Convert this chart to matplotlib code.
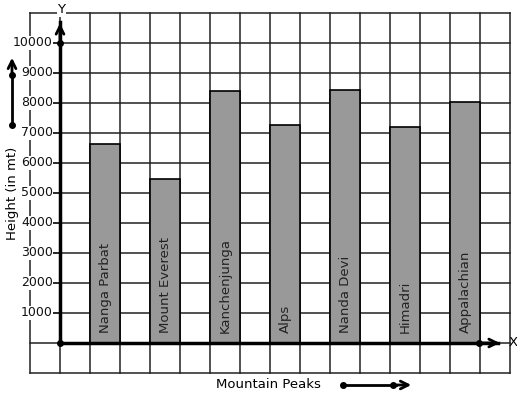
import matplotlib.pyplot as plt
import numpy as np

# peaks and heights (in mt)
peaks = ['Nanga Parbat', 'Mount Everest', 'Kanchenjunga', 'Alps',
         'Nanda Devi', 'Himadri', 'Appalachian']
heights = [6620, 5460, 8390, 7260, 8420, 7190, 8020]
yticks = [1000, 2000, 3000, 4000, 5000, 6000, 7000, 8000, 9000, 10000]

fig = plt.figure(figsize=(5.17, 3.99), dpi=100)
ax = fig.add_axes([0, 0, 1, 1])
ax.axis('off')
# 1 column = 30 px, 1000 mt = 30 px
ax.set_xlim(-2, 15.233)
ax.set_ylim(-1866.7, 11433.3)

lc = '#222222'
# grid
for gx in range(-1, 16):
    ax.plot([gx, gx], [-1000, 11000], color=lc, lw=1.1, zorder=1)
for gy in range(-1000, 12000, 1000):
    ax.plot([-1, 15], [gy, gy], color=lc, lw=1.1, zorder=1)

# bars
xpos = 1.5 + 2 * np.arange(len(peaks))
ax.bar(xpos, heights, width=1, color='#999999', edgecolor='black', lw=1.2, zorder=2)
for x, name in zip(xpos, peaks):
    ax.text(x, 330, name, rotation=90, ha='center', va='bottom', fontsize=9.5,
            color='#222222', zorder=3)

# axes with arrows
ax.plot([0, 0], [0, 10700], color='black', lw=2.5, zorder=4)
ax.plot([0, 14.6], [0, 0], color='black', lw=2.5, zorder=4)
ax.annotate('', xy=(0, 10750), xytext=(0, 10000),
            arrowprops=dict(arrowstyle='->', lw=2, color='black', mutation_scale=14), zorder=5)
ax.annotate('', xy=(14.75, 0), xytext=(14.0, 0),
            arrowprops=dict(arrowstyle='->', lw=2, color='black', mutation_scale=14), zorder=5)
ax.plot([0, 0, 13.97], [0, 10000, 0], 'o', color='black', ms=4, zorder=6)
ax.text(0.05, 11100, 'Y', ha='center', va='center', fontsize=9.5,
        bbox=dict(fc='white', ec='none', pad=0.5), zorder=6)
ax.text(14.95, 0, 'X', ha='left', va='center', fontsize=9.5, zorder=6)

# y tick labels
for t in yticks:
    ax.plot([-0.23, 0], [t, t], color=lc, lw=1.1, zorder=3)
    ax.text(-0.24, t, str(t), ha='right', va='center', fontsize=9,
            color='#111111', bbox=dict(fc='white', ec='none', pad=0.3), zorder=5)

# axis titles with side arrows
ax.text(-1.6, 5000, 'Height (in mt)', rotation=90, ha='center', va='center', fontsize=9.5)
ax.plot([-1.6, -1.6], [7250, 9000], color='black', lw=2, zorder=4)
ax.annotate('', xy=(-1.6, 9600), xytext=(-1.6, 8900),
            arrowprops=dict(arrowstyle='->', lw=2, color='black', mutation_scale=14))
ax.plot([-1.6, -1.6], [7250, 8930], 'o', color='black', ms=4)

ax.text(6.95, -1400, 'Mountain Peaks', ha='center', va='center', fontsize=9.5)
ax.plot([9.43, 11.2], [-1400, -1400], color='black', lw=2)
ax.annotate('', xy=(11.8, -1400), xytext=(11.1, -1400),
            arrowprops=dict(arrowstyle='->', lw=2, color='black', mutation_scale=14))
ax.plot([9.43, 11.1], [-1400, -1400], 'o', color='black', ms=4)

fig.savefig('out.png', dpi=100)
